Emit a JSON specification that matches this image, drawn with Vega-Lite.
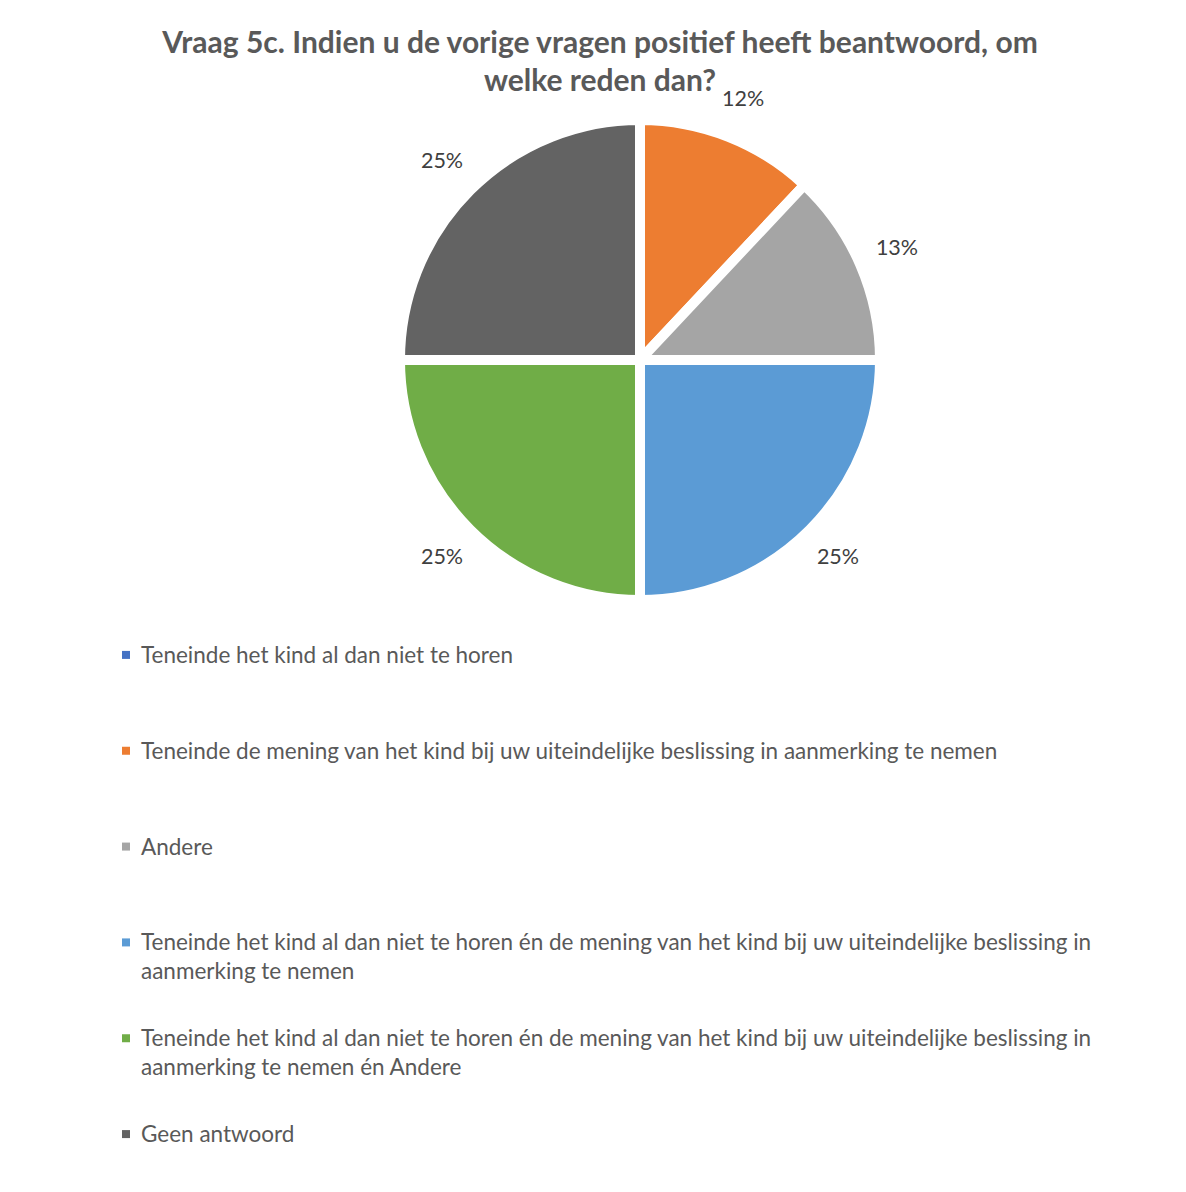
{
  "$schema": "https://vega.github.io/schema/vega-lite/v6.json",
  "padding": {"left": 118, "top": 28, "right": 0, "bottom": 0},
  "background": "white",
  "title": {
    "text": ["Vraag 5c. Indien u de vorige vragen positief heeft beantwoord, om", "welke reden dan?"],
    "anchor": "middle",
    "dx": -40,
    "offset": -8,
    "font": "Lato",
    "fontSize": 30,
    "fontWeight": "bold",
    "color": "#595959",
    "lineHeight": 38
  },
  "config": {"view": {"stroke": null}, "font": "Lato"},
  "datasets": {
    "antwoorden": [
      {"nr": 1, "reden": "Teneinde het kind al dan niet te horen", "aandeel": 0},
      {"nr": 2, "reden": "Teneinde de mening van het kind bij uw uiteindelijke beslissing in aanmerking te nemen", "aandeel": 0.12},
      {"nr": 3, "reden": "Andere", "aandeel": 0.13},
      {"nr": 4, "reden": "Teneinde het kind al dan niet te horen én de mening van het kind bij uw uiteindelijke beslissing in\naanmerking te nemen", "aandeel": 0.25},
      {"nr": 5, "reden": "Teneinde het kind al dan niet te horen én de mening van het kind bij uw uiteindelijke beslissing in\naanmerking te nemen én Andere", "aandeel": 0.25},
      {"nr": 6, "reden": "Geen antwoord", "aandeel": 0.25}
    ]
  },
  "spacing": 12,
  "bounds": "flush",
  "vconcat": [
    {
      "width": 1044,
      "height": 470,
      "data": {"name": "antwoorden"},
      "layer": [
        {
          "mark": {"type": "arc", "outerRadius": 240, "stroke": "white", "strokeWidth": 10},
          "encoding": {
            "theta": {"field": "aandeel", "type": "quantitative", "stack": true},
            "order": {"field": "nr", "type": "quantitative"},
            "color": {
              "field": "reden",
              "type": "nominal",
              "sort": null,
              "scale": {"range": ["#4472C4", "#ED7D31", "#A5A5A5", "#5B9BD5", "#70AD47", "#636363"]},
              "legend": null
            }
          }
        },
        {
          "transform": [{"filter": "datum.aandeel > 0"}],
          "mark": {"type": "text", "radius": 280, "fontSize": 21.5, "color": "#404040", "font": "Lato"},
          "encoding": {
            "theta": {"field": "aandeel", "type": "quantitative", "stack": true},
            "order": {"field": "nr", "type": "quantitative"},
            "text": {"field": "aandeel", "type": "quantitative", "format": ".0%"}
          }
        }
      ]
    },
    {
      "width": 1044,
      "height": 575,
      "data": {"name": "antwoorden"},
      "encoding": {
        "y": {"field": "reden", "type": "nominal", "sort": null, "axis": null, "scale": {"type": "point", "padding": 0.5}}
      },
      "layer": [
        {
          "mark": {"type": "square", "size": 64, "x": 8, "opacity": 1},
          "encoding": {
            "color": {"field": "reden", "type": "nominal", "sort": null, "legend": null}
          }
        },
        {
          "mark": {"type": "text", "x": 23, "align": "left", "baseline": "alphabetic", "dy": 8, "fontSize": 22.5, "color": "#595959", "font": "Lato", "lineBreak": "\n", "lineHeight": 29},
          "encoding": {"text": {"field": "reden", "type": "nominal"}}
        }
      ]
    }
  ]
}
